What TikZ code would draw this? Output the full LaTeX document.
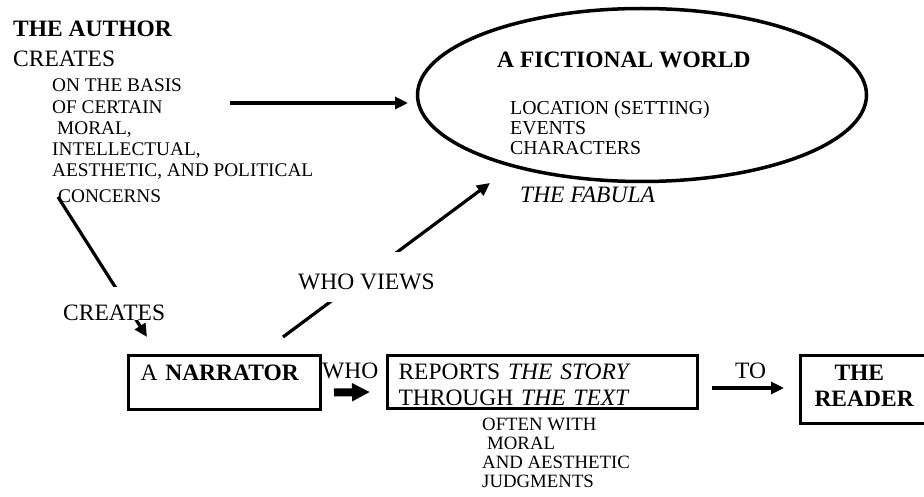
\documentclass[tikz,border=0pt]{standalone}
\usepackage{fontspec}
\setmainfont{Liberation Serif}
\usetikzlibrary{arrows.meta,shapes.geometric,calc}
\begin{document}
\begin{tikzpicture}[x=1pt,y=-1pt,
  big/.style={font=\fontsize{23.5}{26}\selectfont, inner sep=0pt},
  small/.style={font=\fontsize{19.3}{21.25}\selectfont, inner sep=0pt, align=left},
  mid/.style={font=\fontsize{19.8}{20}\selectfont, inner sep=0pt, align=left},
  tiny/.style={font=\fontsize{18.8}{19}\selectfont, inner sep=0pt, align=left},
  arr/.style={line width=3.2pt, -{Triangle[length=13pt,width=12pt]}},
  box/.style={draw, line width=3pt, rectangle, inner ysep=0pt, align=left,
              font=\fontsize{23.5}{26}\selectfont},
  label/.style={big, fill=white, anchor=base west}
]
\useasboundingbox[fill=white] (0,0) rectangle (924,497);

% author (multi-line nodes are placed by the baseline of their last line)
\node[big, anchor=base west] (author) at (13,37) {\textbf{THE AUTHOR}};
\node[big, anchor=base west] (creates1) at (13,67) {CREATES};
\node[small, anchor=base west] (concerns) at (52,203)
  {ON THE BASIS\\OF CERTAIN\\\hspace*{5pt}MORAL,\\INTELLECTUAL,\\AESTHETIC, AND POLITICAL\\[4.75pt]\hspace*{6pt}CONCERNS};

% fictional world
\node[draw, ellipse, line width=3.5pt, minimum width=449pt, minimum height=173pt, inner sep=0pt] (world) at (642,95) {};
\node[big, anchor=base west] (wtitle) at (497,68) {\textbf{A FICTIONAL WORLD}};
\node[mid, anchor=base west] (witems) at (510,155) {LOCATION (SETTING)\\EVENTS\\CHARACTERS};
\node[big, anchor=base west] (fabula) at (520,203) {\textit{THE FABULA}};

% boxes
\node[box, anchor=north west, text height=25pt, text depth=29pt, text width=168pt, inner xsep=12pt] (narrator) at (127,354) {A \textbf{NARRATOR}};
\node[big, anchor=base west] (who) at (322,378) {WHO};
\node[box, anchor=north west, text height=24pt, text depth=29pt, text width=288pt, inner xsep=11pt] (reports) at (386,354)
  {REPORTS \textit{THE STORY}\\THROUGH \textit{THE TEXT}};
\node[tiny, anchor=base west] (often) at (482,487) {OFTEN WITH\\\hspace*{5pt}MORAL\\AND AESTHETIC\\JUDGMENTS};
\node[big, anchor=base west] (to) at (735,378) {TO};
\node[box, anchor=north west, text height=25pt, text depth=43pt, text width=130pt, inner xsep=14pt] (reader) at (799,354)
  {\hspace*{20pt}\textbf{THE}\\\textbf{READER}};

% connectors
\coordinate (awS) at (230,103);
\coordinate (awE) at (408,103);
\draw[arr] (awS) -- (awE);

\coordinate (crS) at (58,197);
\coordinate (crE) at (147,337);
\draw[arr] (crS) -- (crE);
\node[label, text height=33pt, text depth=0pt] (creates2) at (63,320) {CREATES};

\coordinate (wvS) at (283,337);
\coordinate (wvE) at (490,183);
\draw[arr] (wvS) -- (wvE);
\node[label, text height=38pt, text depth=12pt] (whoviews) at (298,290) {WHO VIEWS};

\draw[line width=8pt, -{Triangle[length=18pt,width=17pt]}] ([shift={(12,10)}]narrator.east) -- ([shift={(-16,10)}]reports.west);

\coordinate (toS) at (712,388);
\coordinate (toE) at (784,388);
\draw[arr] (toS) -- (toE);
\end{tikzpicture}
\end{document}
